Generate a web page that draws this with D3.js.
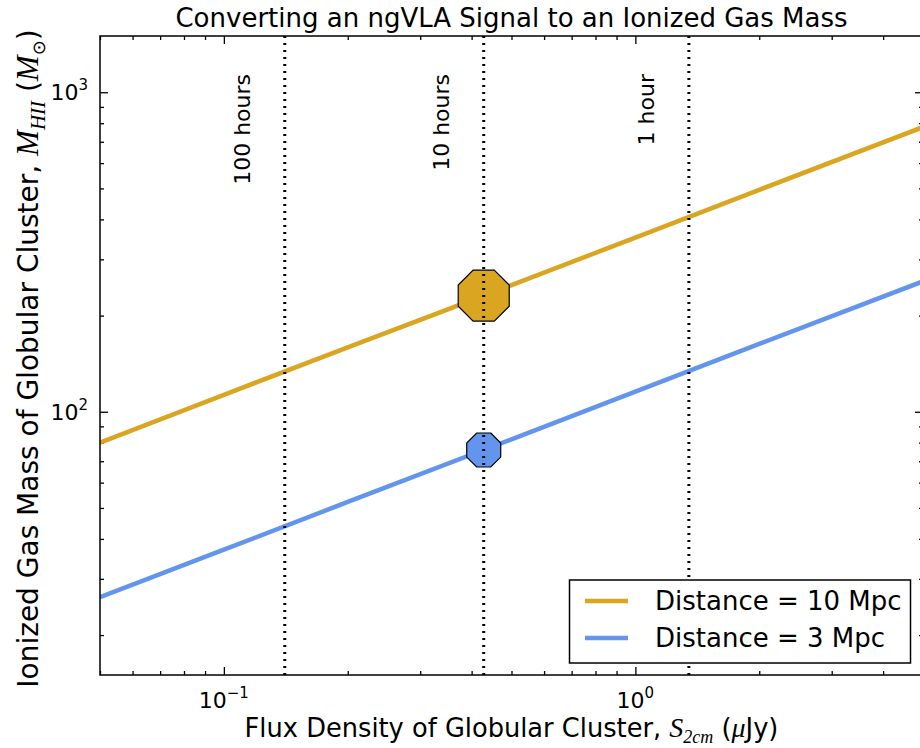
<!DOCTYPE html>
<html>
<head>
<meta charset="utf-8">
<script src="https://cdn.jsdelivr.net/npm/d3@7"></script>
<style>
  body { margin: 0; background: #fff; }
  text { font-family: "DejaVu Sans", sans-serif; fill: #000; }
</style>
</head>
<body>
<script>
const width = 920, height = 748
const plotLeft = 100, plotRight = 923, plotTop = 36, plotBottom = 675

// data
const fluxPoints = [0.05, 0.1, 0.2, 0.5, 1, 2, 5]
const mass10Mpc = [80, 113, 159, 249, 351, 495, 778]
const mass3Mpc = [26.3, 37, 52.2, 82, 115.6, 163, 256]
const seriesNames = ["Distance = 10 Mpc", "Distance = 3 Mpc"]
const seriesColors = ["#DAA520", "#6495ED"]
const exposureFlux = [0.1406, 0.428, 1.349]
const exposureLabels = ["100 hours", "10 hours", "1 hour"]
const markerFlux = 0.428
const markerMass = [231, 75.9]
const markerRadius = [27.6, 18.4]
const xMajor = [0.1, 1], xMajorExp = ["\u22121", "0"]
const yMajor = [100, 1000], yMajorExp = ["2", "3"]

const svg = d3.select("body")
    .append("svg")
    .attr("width", width)
    .attr("height", height)

const x = d3.scaleLog().domain([0.05, 5]).range([plotLeft, plotRight])
const y = d3.scaleLog().domain([15, 1500]).range([plotBottom, plotTop])

svg.append("clipPath").attr("id", "plotclip")
    .append("rect")
    .attr("x", plotLeft).attr("y", plotTop)
    .attr("width", plotRight - plotLeft).attr("height", plotBottom - plotTop)

// rich text helper: parts with italic serif / sub / sup
function rich(textSel, parts) {
    parts.forEach(p => {
        const ts = textSel.append("tspan").text(p.t)
        if (p.it) ts.style("font-family", "'Liberation Serif', serif").style("font-style", "italic")
        if (p.size) ts.style("font-size", p.size + "px")
        if (p.dy) ts.attr("dy", p.dy)
    })
}

// ticks, inward on all four sides
const xMinor = x.ticks().filter(t => !xMajor.some(m => Math.abs(m - t) < 1e-9))
const yMinor = y.ticks().filter(t => !yMajor.some(m => Math.abs(m - t) < 1e-9))

function tickAxis(axisFn, scale, values, size, transform) {
    svg.append("g")
        .attr("transform", transform)
        .call(axisFn(scale).tickValues(values).tickSizeInner(-size).tickSizeOuter(0).tickFormat(""))
        .call(g => g.select(".domain").remove())
        .call(g => g.selectAll("line").attr("stroke", "#000").attr("stroke-width", 1.3))
}
tickAxis(d3.axisBottom, x, xMajor, 8, `translate(0,${plotBottom})`)
tickAxis(d3.axisBottom, x, xMinor, 4, `translate(0,${plotBottom})`)
tickAxis(d3.axisTop, x, xMajor, 8, `translate(0,${plotTop})`)
tickAxis(d3.axisTop, x, xMinor, 4, `translate(0,${plotTop})`)
tickAxis(d3.axisLeft, y, yMajor, 8, `translate(${plotLeft},0)`)
tickAxis(d3.axisLeft, y, yMinor, 4, `translate(${plotLeft},0)`)
tickAxis(d3.axisRight, y, yMajor, 8, `translate(${plotRight},0)`)
tickAxis(d3.axisRight, y, yMinor, 4, `translate(${plotRight},0)`)

// tick labels
xMajor.forEach((v, i) => {
    const t = svg.append("text")
        .attr("x", x(v)).attr("y", 708)
        .attr("text-anchor", "middle")
        .style("font-size", "22px")
    rich(t, [{t: "10"}, {t: xMajorExp[i], size: 15, dy: -10}])
})
yMajor.forEach((v, i) => {
    const t = svg.append("text")
        .attr("x", 88).attr("y", y(v) + 8)
        .attr("text-anchor", "end")
        .style("font-size", "22px")
    rich(t, [{t: "10"}, {t: yMajorExp[i], size: 15, dy: -10}])
})

// series lines
const plot = svg.append("g").attr("clip-path", "url(#plotclip)")
const line = d3.line().x(d => x(d[0])).y(d => y(d[1]))
const seriesData = [mass10Mpc, mass3Mpc].map(vals => fluxPoints.map((f, i) => [f, vals[i]]))

plot.selectAll(".series")
    .data(seriesData)
    .enter()
    .append("path")
    .attr("class", "series")
    .attr("d", line)
    .attr("fill", "none")
    .attr("stroke", (d, i) => seriesColors[i])
    .attr("stroke-width", 4.5)

// octagon markers
const octagon = r => d3.lineRadial()
    .angle(a => a)
    .radius(r)
    .curve(d3.curveLinearClosed)(d3.range(8).map(k => Math.PI / 8 + k * Math.PI / 4))

plot.selectAll(".marker")
    .data(markerMass)
    .enter()
    .append("path")
    .attr("class", "marker")
    .attr("transform", d => `translate(${x(markerFlux)},${y(d)})`)
    .attr("d", (d, i) => octagon(markerRadius[i]))
    .attr("fill", (d, i) => seriesColors[i])
    .attr("stroke", "#000")
    .attr("stroke-width", 1.2)

// exposure-time lines
plot.selectAll(".exposure")
    .data(exposureFlux)
    .enter()
    .append("line")
    .attr("class", "exposure")
    .attr("x1", d => x(d)).attr("x2", d => x(d))
    .attr("y1", plotTop).attr("y2", plotBottom)
    .attr("stroke", "#000")
    .attr("stroke-width", 3)
    .attr("stroke-dasharray", "2,5")

svg.selectAll(".exposure-label")
    .data(exposureFlux)
    .enter()
    .append("text")
    .attr("class", "exposure-label")
    .attr("transform", d => `translate(${x(d) - 35},74) rotate(-90)`)
    .attr("text-anchor", "end")
    .style("font-size", "22px")
    .text((d, i) => exposureLabels[i])

// frame
svg.append("rect")
    .attr("x", plotLeft).attr("y", plotTop)
    .attr("width", plotRight - plotLeft).attr("height", plotBottom - plotTop)
    .attr("fill", "none")
    .attr("stroke", "#000")
    .attr("stroke-width", 1.5)

// title and axis labels
svg.append("text")
    .attr("x", (plotLeft + plotRight) / 2).attr("y", 27)
    .attr("text-anchor", "middle")
    .style("font-size", "26px")
    .text("Converting an ngVLA Signal to an Ionized Gas Mass")

const xl = svg.append("text")
    .attr("x", (plotLeft + plotRight) / 2).attr("y", 737)
    .attr("text-anchor", "middle")
    .style("font-size", "25.7px")
rich(xl, [
    {t: "Flux Density of Globular Cluster, "},
    {t: "S", it: true, size: 28},
    {t: "2cm", it: true, size: 18, dy: 6},
    {t: " (", dy: -6},
    {t: "\u03bc", it: true, size: 28},
    {t: "Jy)"}
])

const yl = svg.append("text")
    .attr("transform", `translate(38,${(plotTop + plotBottom) / 2 + 3}) rotate(-90)`)
    .attr("text-anchor", "middle")
    .style("font-size", "28px")
rich(yl, [
    {t: "Ionized Gas Mass of Globular Cluster, "},
    {t: "M", it: true, size: 31},
    {t: "HII", it: true, size: 21, dy: 7},
    {t: " (", dy: -7},
    {t: "M", it: true, size: 31},
    {t: "\u2299", size: 18, dy: 7},
    {t: ")", dy: -7}
])

// legend
const legend = svg.append("g").attr("id", "legend")
legend.append("rect")
    .attr("x", 569.5).attr("y", 580)
    .attr("width", 341).attr("height", 83)
    .attr("fill", "#fff")
    .attr("stroke", "#000")
    .attr("stroke-width", 1.5)
const items = legend.selectAll(".item")
    .data(seriesNames)
    .enter()
    .append("g")
    .attr("class", "item")
    .attr("transform", (d, i) => `translate(0,${601 + i * 37})`)
items.append("line")
    .attr("x1", 585).attr("x2", 628)
    .attr("stroke", (d, i) => seriesColors[i])
    .attr("stroke-width", 4.5)
items.append("text")
    .attr("x", 655).attr("y", 9)
    .style("font-size", "26px")
    .text(d => d)
</script>
</body>
</html>
